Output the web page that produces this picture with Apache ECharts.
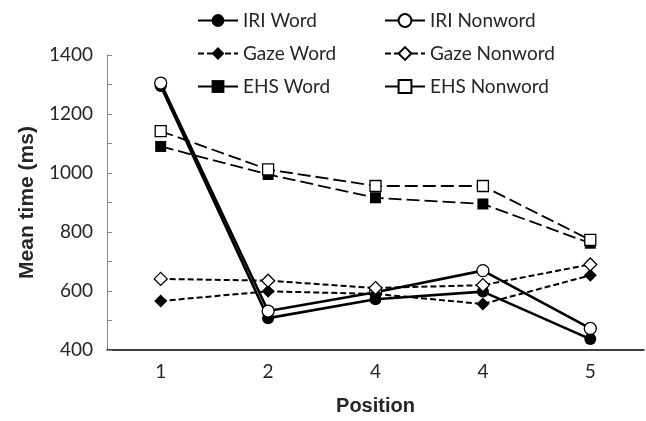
<!DOCTYPE html>
<html>
<head>
<meta charset="utf-8">
<script src="https://cdn.jsdelivr.net/npm/echarts@6/dist/echarts.min.js"></script>
<style>
  html, body { margin: 0; padding: 0; background: #fff; }
  #chart { width: 646px; height: 421px; }
</style>
</head>
<body>
<div id="chart"></div>
<script>
const positions = ['1', '2', '4', '4', '5'];

const iriWord = [1295, 508, 572, 598, 437];
const iriNonword = [1305, 532, 596, 669, 473];
const gazeWord = [566, 599, 590, 556, 653];
const gazeNonword = [641, 635, 610, 620, 690];
const ehsWord = [1090, 995, 916, 895, 762];
const ehsNonword = [1142, 1012, 956, 956, 773];

const chart = echarts.init(document.getElementById('chart'));

const labelFont = 'Lato, "Liberation Sans", sans-serif';
const titleFont = '"Liberation Sans", Arial, sans-serif';

function makeSeries(name, data, symbol, filled, lineType, width, size) {
  return {
    name: name,
    type: 'line',
    data: data,
    symbol: symbol,
    symbolSize: size,
    showSymbol: true,
    lineStyle: { color: '#000', width: width, type: lineType },
    itemStyle: {
      color: filled ? '#000' : '#fff',
      borderColor: '#000',
      borderWidth: filled ? 0 : 1.3
    },
    emphasis: { disabled: true },
    animation: false
  };
}

function legendAt(name, left, top, solidIcon) {
  const lg = {
    data: [name],
    left: left,
    top: top,
    itemWidth: 40,
    itemHeight: 16,
    itemGap: 5,
    padding: 0,
    selectedMode: false,
    textStyle: { fontFamily: labelFont, fontSize: 19, color: '#262626' }
  };
  // the EHS keys are drawn with a solid line in the original legend
  if (solidIcon) lg.lineStyle = { type: 'solid' };
  return lg;
}

chart.setOption({
  backgroundColor: '#fff',
  animation: false,
  legend: [
    legendAt('IRI Word', 197, 11),
    legendAt('IRI Nonword', 384, 11),
    legendAt('Gaze Word', 197, 44),
    legendAt('Gaze Nonword', 384, 44),
    legendAt('EHS Word', 197, 77, true),
    legendAt('EHS Nonword', 384, 77, true)
  ],
  grid: { left: 107, right: 2, top: 55, bottom: 71 },
  xAxis: {
    type: 'category',
    data: positions,
    boundaryGap: true,
    name: 'Position',
    nameLocation: 'middle',
    nameGap: 46,
    nameTextStyle: { fontFamily: titleFont, fontWeight: 'bold', fontSize: 20, color: '#262626' },
    axisLine: { lineStyle: { color: '#000', width: 1.5 } },
    axisTick: { show: false },
    axisLabel: { fontFamily: labelFont, fontSize: 19, color: '#262626', margin: 12 },
    splitLine: { show: false }
  },
  yAxis: {
    type: 'value',
    min: 400,
    max: 1400,
    interval: 200,
    name: 'Mean time (ms)',
    nameLocation: 'middle',
    nameGap: 68,
    nameTextStyle: { fontFamily: titleFont, fontWeight: 'bold', fontSize: 21, color: '#262626' },
    axisLine: { show: true, lineStyle: { color: '#858585', width: 1 } },
    axisTick: { show: true, inside: true, length: 5, lineStyle: { color: '#858585' } },
    minorTick: { show: true, splitNumber: 2, length: 5, lineStyle: { color: '#858585' } },
    axisLabel: {
      fontFamily: labelFont, fontSize: 19, color: '#262626', margin: 14,
      formatter: function (v) { return String(v); }
    },
    splitLine: { show: false }
  },
  series: [
    makeSeries('IRI Word', iriWord, 'circle', true, 'solid', 2.6, 12),
    makeSeries('IRI Nonword', iriNonword, 'circle', false, 'solid', 2.6, 12),
    makeSeries('Gaze Word', gazeWord, 'diamond', true, [6, 3], 2, 13),
    makeSeries('Gaze Nonword', gazeNonword, 'diamond', false, [6, 3], 2, 13),
    makeSeries('EHS Word', ehsWord, 'rect', true, [13, 5], 1.8, 11),
    makeSeries('EHS Nonword', ehsNonword, 'rect', false, [13, 5], 1.8, 11)
  ]
});
</script>
</body>
</html>
